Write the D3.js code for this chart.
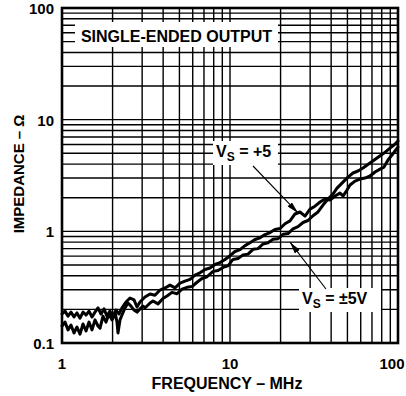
<!DOCTYPE html>
<html>
<head>
<meta charset="utf-8">
<script src="https://cdn.jsdelivr.net/npm/d3@7"></script>
<style>
  html, body { margin: 0; padding: 0; background: #fff; }
  svg { display: block; }
  text { font-family: "Liberation Sans", Arial, Helvetica, sans-serif; font-weight: bold; fill: #000; }
</style>
</head>
<body>
<div id="chart"></div>
<script>
// ---------- data ----------
const xTickValues = [1, 10, 100];
const xTickLabels = ["1", "10", "100"];
const yTickValues = [0.1, 1, 10, 100];
const yTickLabels = ["0.1", "1", "10", "100"];

// Vs = +5 (single supply)
const plus5Freq = [1.00, 1.042, 1.086, 1.131, 1.179, 1.228, 1.280, 1.334, 1.390, 1.448, 1.509, 1.572, 1.638, 1.707, 1.778, 1.853, 1.931, 2.012, 2.096, 2.184, 2.276, 2.404, 2.540, 2.683, 2.795, 2.912, 3.119, 3.341, 3.577, 3.831, 4.103, 4.394, 4.706, 5.040, 5.397, 5.780, 6.190, 6.630, 7.100, 7.603, 8.143, 8.720, 9.338, 10.0, 10.71, 11.47, 12.28, 13.15, 14.09, 15.09, 16.16, 17.31, 18.53, 19.85, 21.26, 22.76, 24.37, 26.11, 27.96, 29.94, 32.06, 34.35, 36.78, 39.38, 42.17, 45.16, 47.06, 49.72, 51.80, 55.46, 59.39, 63.62, 68.13, 72.97, 78.15, 82.54, 87.20, 92.11, 95.97, 100];
const plus5Imp = [0.182, 0.193, 0.174, 0.189, 0.171, 0.186, 0.167, 0.189, 0.178, 0.193, 0.171, 0.189, 0.206, 0.182, 0.202, 0.174, 0.193, 0.167, 0.197, 0.182, 0.206, 0.233, 0.253, 0.243, 0.210, 0.233, 0.258, 0.275, 0.268, 0.298, 0.311, 0.330, 0.312, 0.344, 0.358, 0.372, 0.405, 0.425, 0.455, 0.470, 0.505, 0.525, 0.560, 0.605, 0.660, 0.685, 0.745, 0.790, 0.845, 0.875, 0.935, 0.975, 1.04, 1.06, 1.17, 1.24, 1.43, 1.49, 1.37, 1.58, 1.68, 1.83, 1.95, 1.91, 2.07, 2.20, 2.07, 2.34, 2.60, 2.82, 2.94, 3.00, 3.13, 3.40, 3.61, 3.76, 4.35, 4.82, 5.24, 5.68];

// Vs = ±5V (dual supply)
const pm5Freq = [1.00, 1.042, 1.086, 1.131, 1.179, 1.228, 1.280, 1.334, 1.390, 1.448, 1.509, 1.572, 1.638, 1.684, 1.754, 1.828, 1.905, 1.984, 2.068, 2.125, 2.154, 2.214, 2.276, 2.371, 2.471, 2.575, 2.683, 2.795, 2.912, 3.034, 3.119, 3.341, 3.481, 3.728, 3.992, 4.217, 4.516, 4.837, 5.180, 5.546, 5.939, 6.362, 6.813, 7.297, 7.924, 8.485, 9.085, 9.730, 10.42, 11.16, 11.95, 12.80, 13.71, 14.68, 15.72, 16.84, 18.03, 19.31, 20.69, 22.14, 23.71, 25.40, 27.20, 29.13, 31.19, 33.41, 35.77, 38.31, 41.04, 43.35, 47.06, 50.40, 53.97, 57.80, 61.90, 68.13, 74.99, 82.54, 89.65, 94.67, 100];
const pm5Imp = [0.142, 0.154, 0.131, 0.145, 0.123, 0.139, 0.120, 0.148, 0.128, 0.154, 0.131, 0.161, 0.142, 0.136, 0.174, 0.154, 0.182, 0.161, 0.189, 0.154, 0.123, 0.161, 0.178, 0.206, 0.228, 0.214, 0.197, 0.189, 0.202, 0.214, 0.206, 0.228, 0.238, 0.224, 0.250, 0.264, 0.284, 0.276, 0.304, 0.315, 0.320, 0.350, 0.378, 0.392, 0.438, 0.445, 0.475, 0.490, 0.560, 0.570, 0.615, 0.625, 0.690, 0.700, 0.770, 0.790, 0.850, 0.860, 0.940, 0.955, 1.05, 1.10, 1.20, 1.25, 1.38, 1.49, 1.72, 1.95, 2.16, 2.44, 2.76, 3.06, 3.33, 3.47, 3.69, 4.09, 4.53, 5.02, 5.57, 5.93, 6.43];

// annotation anchors (data space: MHz, ohms)
const plus5Anchor = [25.4, 1.46];
const pm5Anchor = [22.76, 0.80];

// ---------- layout ----------
const W = 406, H = 396;
const margin = { left: 62, top: 8, right: 8, bottom: 53 };
const iw = W - margin.left - margin.right;
const ih = H - margin.top - margin.bottom;

const svg = d3.select("#chart").append("svg")
  .attr("width", W).attr("height", H);

const x = d3.scaleLog().domain([1, 100]).range([margin.left, margin.left + iw]);
const y = d3.scaleLog().domain([0.1, 100]).range([margin.top + ih, margin.top]);

// grid
const g = svg.append("g");
const xGrid = x.ticks(20);
const yGrid = y.ticks(30);
g.selectAll("line.vx").data(xGrid).enter().append("line")
  .attr("x1", d => x(d)).attr("x2", d => x(d))
  .attr("y1", margin.top).attr("y2", margin.top + ih)
  .attr("stroke", "#000").attr("stroke-width", 1.4);
g.selectAll("line.hy").data(yGrid).enter().append("line")
  .attr("y1", d => y(d)).attr("y2", d => y(d))
  .attr("x1", margin.left).attr("x2", margin.left + iw)
  .attr("stroke", "#000").attr("stroke-width", 1.4);

// title box inside plot
const titleBox = svg.append("g");
titleBox.append("rect").attr("x", 75).attr("y", 22).attr("width", 203).attr("height", 25).attr("fill", "#fff");
titleBox.append("text").attr("x", 176.5).attr("y", 41.5).attr("text-anchor", "middle")
  .attr("font-size", 16).text("SINGLE-ENDED OUTPUT");

// curves
const line = d3.line().x(d => x(d[0])).y(d => y(d[1])).curve(d3.curveLinear);
const plus5 = plus5Freq.map((f, i) => [f, plus5Imp[i]]);
const pm5 = pm5Freq.map((f, i) => [f, pm5Imp[i]]);
[plus5, pm5].forEach(s => {
  svg.append("path").datum(s).attr("d", line)
    .attr("fill", "none").attr("stroke", "#000").attr("stroke-width", 3)
    .attr("stroke-linejoin", "round").attr("stroke-linecap", "round");
});

// frame
svg.append("rect").attr("x", margin.left).attr("y", margin.top)
  .attr("width", iw).attr("height", ih)
  .attr("fill", "none").attr("stroke", "#000").attr("stroke-width", 2.6);

// annotation labels
function label(xs, ys, bx, by, bw, bh, main) {
  const gg = svg.append("g");
  gg.append("rect").attr("x", bx).attr("y", by).attr("width", bw).attr("height", bh).attr("fill", "#fff");
  const t = gg.append("text").attr("x", xs).attr("y", ys).attr("font-size", 16);
  t.append("tspan").text("V");
  t.append("tspan").attr("font-size", 12).attr("dy", 4).text("S");
  t.append("tspan").attr("dy", -4).text(main);
}
label(216, 157, 213, 141, 65, 24, " = +5");
label(302, 304, 299, 288, 82, 24, " = \u00B15V");

// arrows
const defs = svg.append("defs");
defs.append("marker").attr("id", "ah").attr("viewBox", "0 0 12 6")
  .attr("refX", 12).attr("refY", 3).attr("markerWidth", 12).attr("markerHeight", 6)
  .attr("markerUnits", "userSpaceOnUse").attr("orient", "auto")
  .append("path").attr("d", "M0,0 L12,3 L0,6 Z").attr("fill", "#000");
svg.append("line").attr("x1", 253).attr("y1", 166)
  .attr("x2", x(plus5Anchor[0])).attr("y2", y(plus5Anchor[1]))
  .attr("stroke", "#000").attr("stroke-width", 1.1).attr("marker-end", "url(#ah)");
svg.append("line").attr("x1", 326).attr("y1", 289)
  .attr("x2", x(pm5Anchor[0])).attr("y2", y(pm5Anchor[1]))
  .attr("stroke", "#000").attr("stroke-width", 1.1).attr("marker-end", "url(#ah)");

// tick labels
svg.selectAll("text.xt").data(xTickValues).enter().append("text")
  .attr("x", d => Math.min(x(d), W - 14)).attr("y", 369).attr("text-anchor", "middle")
  .attr("font-size", 15).text((d, i) => xTickLabels[i]);
svg.selectAll("text.yt").data(yTickValues).enter().append("text")
  .attr("x", 54).attr("y", d => y(d) + 6).attr("text-anchor", "end")
  .attr("font-size", 15).text((d, i) => yTickLabels[i]);

// axis titles
svg.append("text").attr("x", 227).attr("y", 389)
  .attr("text-anchor", "middle").attr("font-size", 16).text("FREQUENCY \u2013 MHz");
svg.append("text").attr("transform", "translate(24,174) rotate(-90)")
  .attr("text-anchor", "middle").attr("font-size", 15).text("IMPEDANCE \u2013 \u03A9");
</script>
</body>
</html>
